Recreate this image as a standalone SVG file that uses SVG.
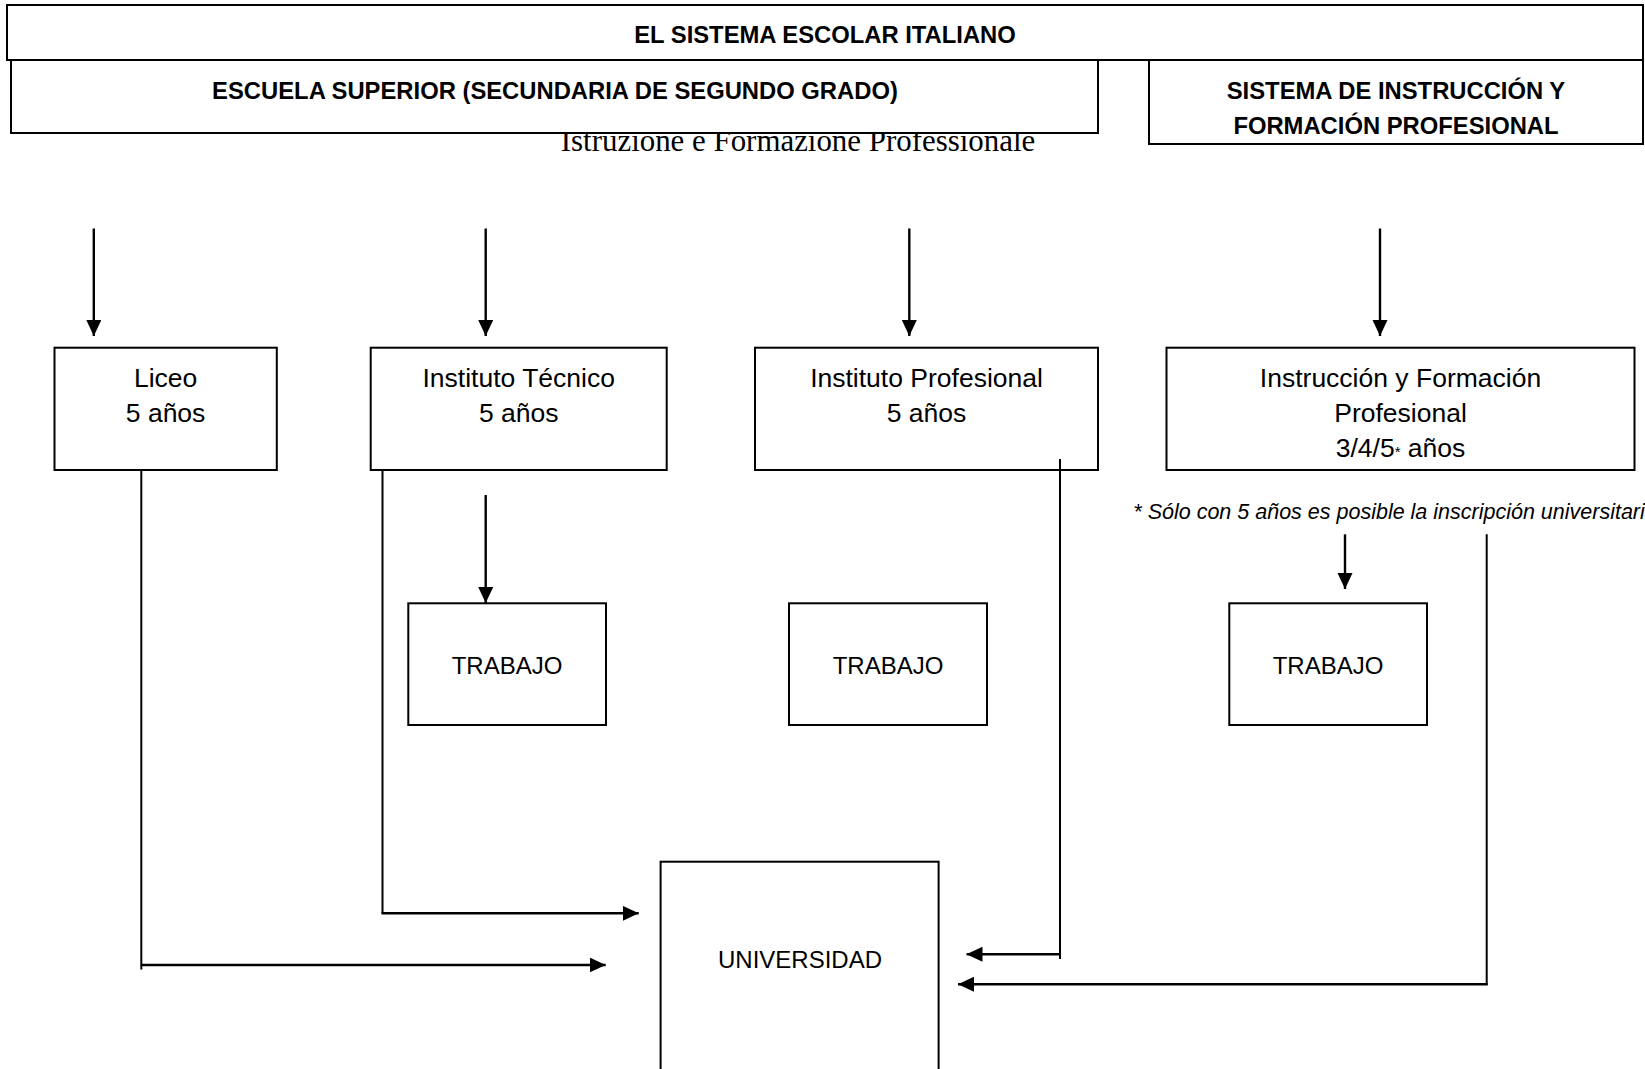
<svg xmlns="http://www.w3.org/2000/svg" width="1645" height="1069" viewBox="0 0 1645 1069">
<defs>
<style>
.box{fill:#fff;stroke:#000;stroke-width:2}
.t{font-family:"Liberation Sans",Arial,sans-serif;font-size:26.5px;fill:#000;text-anchor:middle}
.tu{font-family:"Liberation Sans",Arial,sans-serif;font-size:24px;fill:#000;text-anchor:middle}
.tb{font-family:"Liberation Sans",Arial,sans-serif;font-size:23.8px;font-weight:bold;fill:#000;text-anchor:middle}
.ln{fill:none;stroke:#000;stroke-width:2}
.ar{fill:none;stroke:#000;stroke-width:2.4;marker-end:url(#ah)}
</style>
<marker id="ah" markerUnits="userSpaceOnUse" markerWidth="16" markerHeight="16" refX="16" refY="7.5" orient="auto">
<path d="M0,0 L16,7.5 L0,15 Z" fill="#000"/>
</marker>
</defs>
<rect width="1645" height="1069" fill="#fff"/>
<text x="798" y="150.7" font-family="'Liberation Serif','Times New Roman',serif" font-size="30.9" fill="#000" text-anchor="middle">Istruzione e Formazione Professionale</text>
<g id="titulo">
<rect class="box" x="7" y="5" width="1636" height="55"/>
<text class="tb" x="825" y="43">EL SISTEMA ESCOLAR ITALIANO</text>
</g>
<g id="escuela-superior">
<rect class="box" x="11" y="60" width="1087" height="73"/>
<text class="tb" x="555" y="99">ESCUELA SUPERIOR (SECUNDARIA DE SEGUNDO GRADO)</text>
</g>
<g id="sistema-ifp">
<rect class="box" x="1149" y="60" width="494" height="84"/>
<text class="tb" x="1396" y="98.5">SISTEMA DE INSTRUCCIÓN Y</text>
<text class="tb" x="1396" y="133.5">FORMACIÓN PROFESIONAL</text>
</g>
<g id="liceo">
<rect class="box" x="54.5" y="347.7" width="222.3" height="122.3"/>
<text class="t" x="165.6" y="387.3">Liceo</text>
<text class="t" x="165.6" y="422.3">5 años</text>
</g>
<g id="instituto-tecnico">
<rect class="box" x="370.7" y="347.7" width="296" height="122.3"/>
<text class="t" x="518.7" y="387.3">Instituto Técnico</text>
<text class="t" x="518.7" y="422.3">5 años</text>
</g>
<g id="instituto-profesional">
<rect class="box" x="755" y="347.7" width="343" height="122.3"/>
<text class="t" x="926.5" y="387.3">Instituto Profesional</text>
<text class="t" x="926.5" y="422.3">5 años</text>
</g>
<g id="ifp">
<rect class="box" x="1166.5" y="347.7" width="468" height="122.3"/>
<text class="t" x="1400.5" y="386.5">Instrucción y Formación</text>
<text class="t" x="1400.5" y="421.7">Profesional</text>
<text class="t" x="1400.5" y="456.7">3/4/5<tspan font-size="15">*</tspan> años</text>
</g>
<g id="nota">
<text x="1133.3" y="519" font-family="'Liberation Sans',Arial,sans-serif" font-size="21.5" font-style="italic" fill="#000">* Sólo con 5 años es posible la inscripción universitaria</text>
</g>
<g id="trabajo-1">
<rect class="box" x="408.3" y="603.3" width="197.7" height="121.7"/>
<text class="tu" x="507" y="673.5">TRABAJO</text>
</g>
<g id="trabajo-2">
<rect class="box" x="789" y="603.3" width="198" height="121.7"/>
<text class="tu" x="888" y="673.5">TRABAJO</text>
</g>
<g id="trabajo-3">
<rect class="box" x="1229.3" y="603.3" width="197.7" height="121.7"/>
<text class="tu" x="1328" y="673.5">TRABAJO</text>
</g>
<g id="universidad">
<rect class="box" x="660.6" y="861.7" width="278" height="260"/>
<text class="tu" x="800" y="967.7">UNIVERSIDAD</text>
</g>
<g id="conectores">
<line class="ar" x1="93.8" y1="228.5" x2="93.8" y2="336"/>
<line class="ar" x1="485.7" y1="228.5" x2="485.7" y2="336"/>
<line class="ar" x1="909.3" y1="228.5" x2="909.3" y2="336"/>
<line class="ar" x1="1380" y1="228.5" x2="1380" y2="336"/>
<line class="ar" x1="485.7" y1="495" x2="485.7" y2="603"/>
<line class="ar" x1="1345" y1="534.3" x2="1345" y2="589"/>
<line class="ln" x1="141.3" y1="470" x2="141.3" y2="969.5"/>
<line class="ar" x1="141.3" y1="965" x2="605.7" y2="965"/>
<line class="ln" x1="382.5" y1="470" x2="382.5" y2="913.3"/>
<line class="ar" x1="381.5" y1="913.3" x2="638.7" y2="913.3"/>
<line class="ln" x1="1060" y1="459" x2="1060" y2="959"/>
<line class="ar" x1="1061" y1="954.3" x2="966.5" y2="954.3"/>
<line class="ln" x1="1486.7" y1="534.3" x2="1486.7" y2="985"/>
<line class="ar" x1="1487.7" y1="984.3" x2="958" y2="984.3"/>
</g>
</svg>
